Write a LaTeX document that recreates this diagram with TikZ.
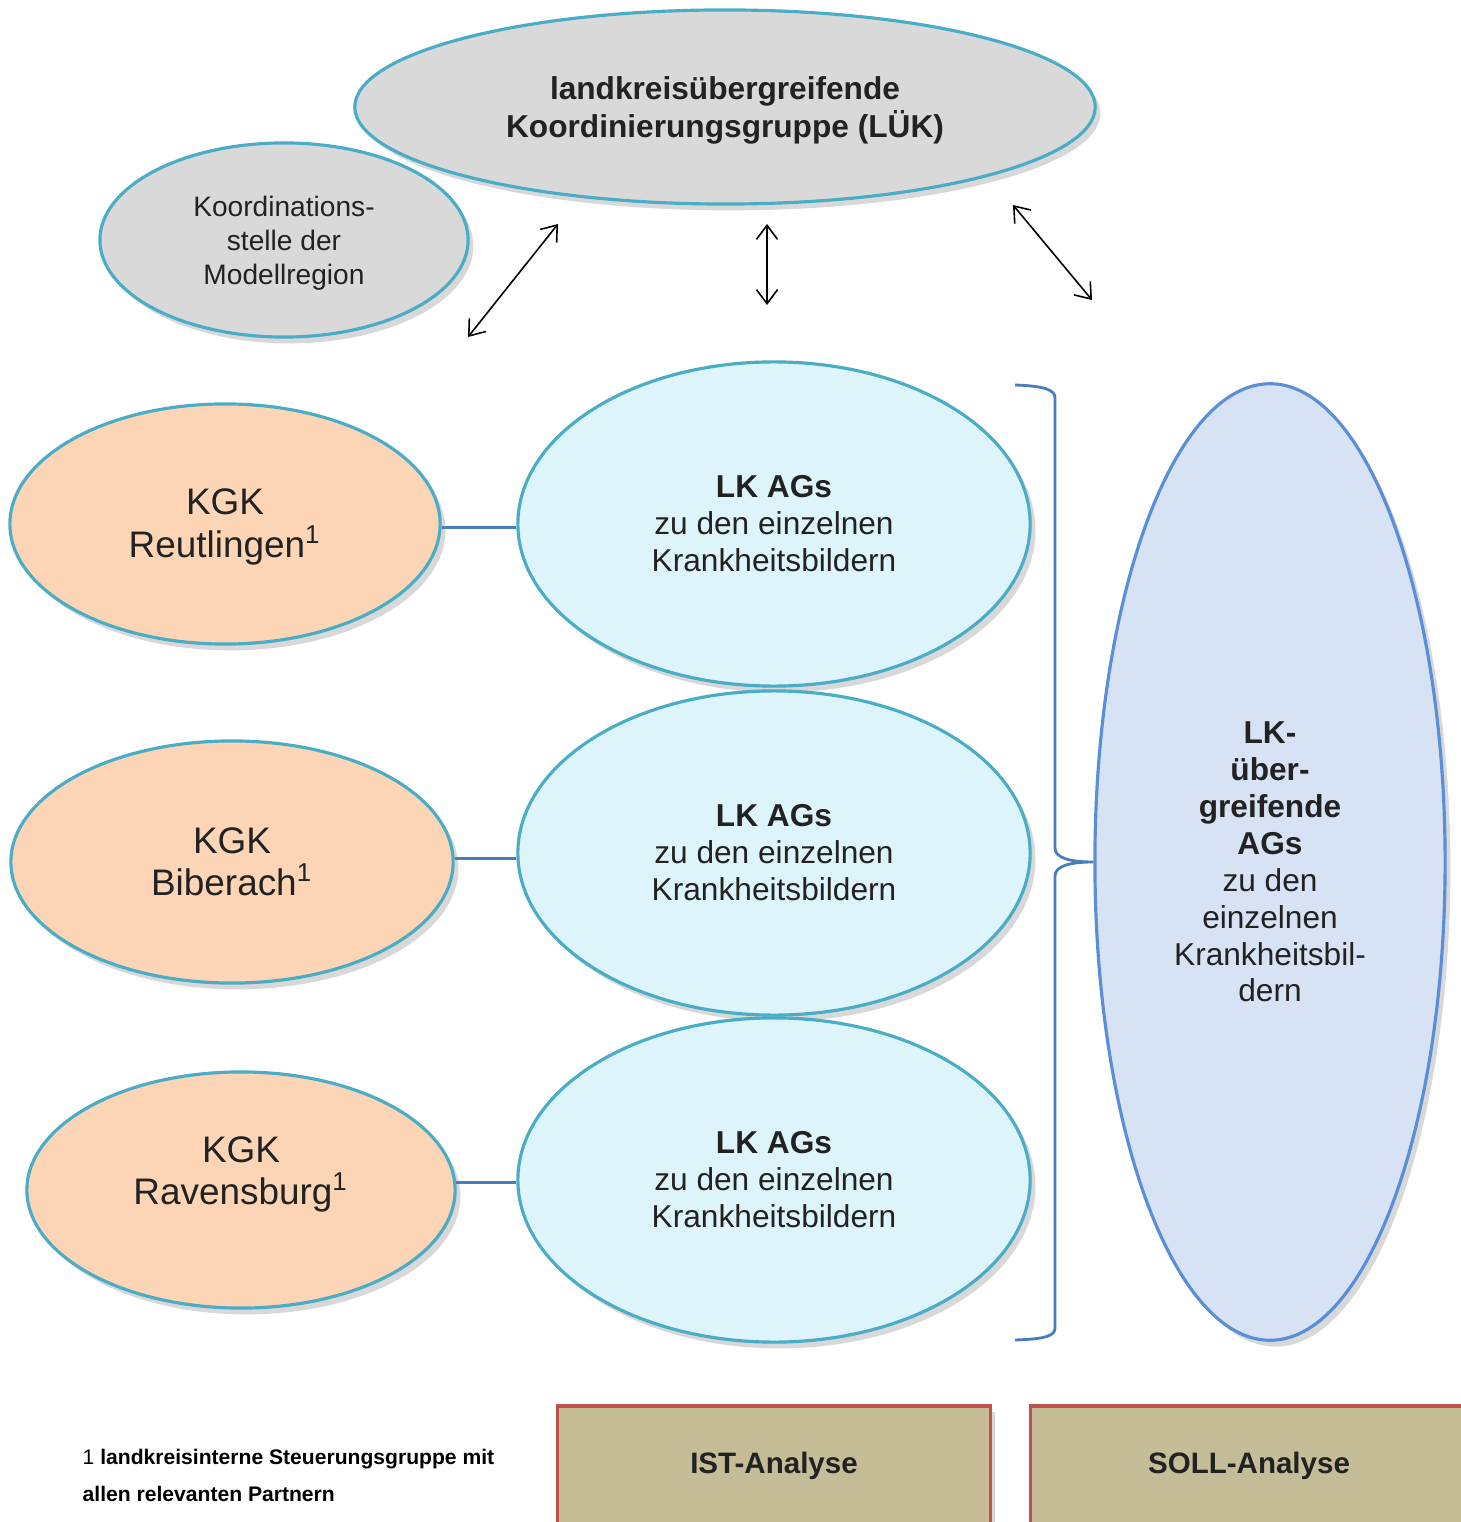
\documentclass[tikz,border=0pt]{standalone}
\usepackage{fontspec}
\setmainfont{Liberation Sans}
\usetikzlibrary{shapes.geometric,shadows,arrows.meta}
\definecolor{rand}{HTML}{4BACC6}
\definecolor{grau}{HTML}{D9D9D9}
\definecolor{apricot}{HTML}{FBD5B5}
\definecolor{hellcyan}{HTML}{DDF4FA}
\definecolor{hellblau}{HTML}{D7E3F4}
\definecolor{blaurand}{HTML}{5A8ED8}
\definecolor{linie}{HTML}{4A7EBB}
\definecolor{oliv}{HTML}{C4BD97}
\definecolor{rotrand}{HTML}{C0504D}
\definecolor{schrift}{HTML}{222222}
\tikzset{
  schatten/.style={drop shadow={opacity=0.22,shadow xshift=1.5pt,shadow yshift=-1.8pt,fill=black!70}},
  oval/.style={ellipse,draw=rand,line width=0.9pt,inner sep=0pt,align=center,text=schrift,schatten},
  grp/.style={oval,fill=grau},
  kgk/.style={oval,fill=apricot,minimum width=4.30cm,minimum height=2.40cm,
    font=\fontsize{10.5}{12}\selectfont},
  lkag/.style={oval,fill=hellcyan,minimum width=5.12cm,minimum height=3.24cm,
    font=\fontsize{9}{10.5}\selectfont},
  analyse/.style={rectangle,draw=rotrand,line width=0.9pt,fill=oliv,text=schrift,
    minimum height=1.20cm,font=\fontsize{8.4}{10}\selectfont\bfseries,schatten},
  pfeil/.style={{Straight Barb[length=4pt,width=6pt]}-{Straight Barb[length=4pt,width=6pt]},line width=0.45pt},
  verbind/.style={draw=linie,line width=0.8pt}
}
\begin{document}
\begin{tikzpicture}[x=0.01cm,y=-0.01cm]
\useasboundingbox (0,0) rectangle (1460,1522);
% obere Ebene
\node[grp,minimum width=7.40cm,minimum height=1.94cm,text depth=0pt,
  font=\fontsize{9}{10.8}\selectfont\bfseries] (luek) at (725,107)
  {landkreisübergreifende\\Koordinierungsgruppe (LÜK)};
\node[grp,minimum width=3.68cm,minimum height=1.94cm,text depth=0pt,
  font=\fontsize{8}{9.7}\selectfont] (kst) at (284,240)
  {Koordinations-\\stelle der\\Modellregion};
% Doppelpfeile
\coordinate (pa1) at (468,337); \coordinate (pa2) at (558,224);
\coordinate (pb1) at (767,224); \coordinate (pb2) at (767,305);
\coordinate (pc1) at (1013,205); \coordinate (pc2) at (1092,300);
\draw[pfeil] (pa1) -- (pa2);
\draw[pfeil] (pb1) -- (pb2);
\draw[pfeil] (pc1) -- (pc2);
% Landkreise
\node[kgk,text depth=0.5pt] (kgkR) at (225,524) {KGK\\Reutlingen\textsuperscript{1}};
\node[kgk,minimum width=4.42cm,minimum height=2.42cm] (kgkB) at (232,862) {KGK\\Biberach\textsuperscript{1}};
\node[kgk,minimum width=4.28cm,minimum height=2.36cm,text depth=11pt] (kgkV) at (241,1190) {KGK\\Ravensburg\textsuperscript{1}};
\node[lkag] (lkR) at (774,524) {\textbf{LK AGs}\\zu den einzelnen\\Krankheitsbildern};
\node[lkag] (lkB) at (774,853) {\textbf{LK AGs}\\zu den einzelnen\\Krankheitsbildern};
\node[lkag] (lkV) at (774,1180) {\textbf{LK AGs}\\zu den einzelnen\\Krankheitsbildern};
\draw[verbind] (kgkR.-1) -- (kgkR.-1 -| lkR.west);
\draw[verbind] (kgkB.1.5) -- (kgkB.1.5 -| lkB.west);
\draw[verbind] (kgkV.2.7) -- (kgkV.2.7 -| lkV.west);
% LK-uebergreifend
\node[oval,draw=blaurand,fill=hellblau,minimum width=3.50cm,minimum height=9.56cm,
  font=\fontsize{9}{10.5}\selectfont] (lkue) at (1270,862)
  {\textbf{LK-}\\\textbf{über-}\\\textbf{greifende}\\\textbf{AGs}\\zu den\\einzelnen\\Krankheitsbil-\\dern};
% Klammer
\draw[verbind] (1015,385) .. controls (1045,386) and (1055,390) .. (1055,398)
  -- (1055,848) .. controls (1055,858) and (1070,862) .. (lkue.west)
  .. controls (1070,862) and (1055,866) .. (1055,876)
  -- (1055,1328) .. controls (1055,1336) and (1045,1339) .. (1015,1340);
% Analysen
\node[analyse,minimum width=4.32cm] (ist) at (774,1466) {IST-Analyse};
\node[analyse,minimum width=4.36cm] (soll) at (1249,1466) {SOLL-Analyse};
% Fussnote
\node[anchor=west,align=left,inner sep=0pt,text=black,font=\fontsize{6}{10.5}\selectfont\bfseries] (fn) at (82,1475)
  {{\mdseries 1} landkreisinterne Steuerungsgruppe mit\\allen relevanten Partnern};
\end{tikzpicture}
\end{document}
